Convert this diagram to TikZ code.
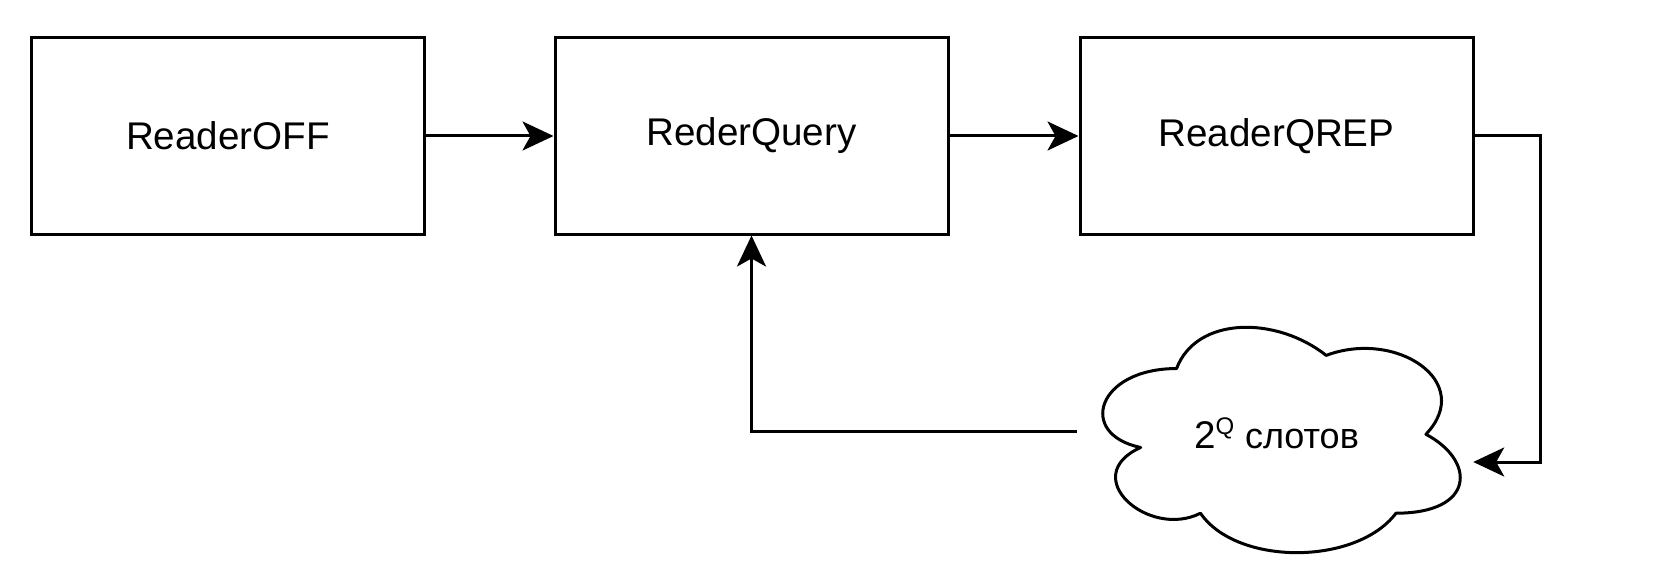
\documentclass[tikz,border=0pt]{standalone}
\usepackage{fontspec}
\setmainfont{Liberation Sans}
\usetikzlibrary{arrows.meta,calc}
\tikzset{
  box/.style={draw=black, line width=3pt, minimum width=393pt, minimum height=196pt, inner sep=0pt, font=\fontsize{38.6}{46}\selectfont},
  conn/.style={line width=3pt, -{Stealth[length=31pt, width=29pt, inset=8pt]}},
  cloudline/.style={line width=3pt, line join=round},
}
\begin{document}
\begin{tikzpicture}[x=1pt, y=-1pt]
\useasboundingbox (0,0) rectangle (1667,580);
\node[box] (off) at (228,136) {ReaderOFF};
\node[box] (query) at (751.5,136) {RederQuery};
\node[box] (qrep) at (1276.5,136) {ReaderQREP};
\node[minimum width=399pt, minimum height=263pt, inner sep=0pt, font=\fontsize{38.6}{46}\selectfont] (cloud) at (1276.5,433) {2{\fontsize{24}{24}\selectfont\raisebox{14pt}{Q}} {\fontsize{36}{40}\selectfont слотов}};
\begin{scope}[shift={(cloud.north west)}, x=399pt, y=-263pt, yshift=-1.5pt]
\draw[cloudline] (0.25,0.25) .. controls (0.05,0.25) and (0,0.5) .. (0.16,0.55)
  .. controls (0,0.66) and (0.18,0.9) .. (0.31,0.8)
  .. controls (0.4,1) and (0.7,1) .. (0.8,0.8)
  .. controls (1,0.8) and (1,0.6) .. (0.875,0.5)
  .. controls (1,0.3) and (0.8,0.1) .. (0.625,0.2)
  .. controls (0.5,0.05) and (0.3,0.05) .. (0.25,0.25) -- cycle;
\end{scope}
\coordinate (turn) at (1540,136);
\coordinate (cin) at ($(cloud.east)+(-3,29)$);
\coordinate (cout) at ($(cloud.west)+(0,-1.5)$);
\draw[conn] (off) -- (query);
\draw[conn] (query) -- (qrep);
\draw[conn] (qrep.east) -- (turn) |- (cin);
\draw[conn] (cout) -| (query.south);
\end{tikzpicture}
\end{document}
